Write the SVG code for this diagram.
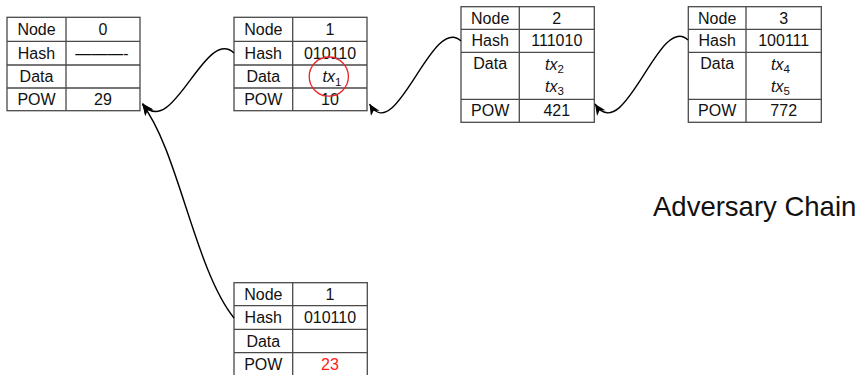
<svg xmlns="http://www.w3.org/2000/svg" width="858" height="375" viewBox="0 0 858 375">
  <style>
    .cell { fill: none; stroke: #4a4a4a; stroke-width: 1.3; }
    .lbl { font-family: "Liberation Sans", Arial, Helvetica, sans-serif; font-size: 16px; fill: #111; text-anchor: middle; }
    .it { font-style: italic; }
    .sub { font-size: 11.5px; font-style: normal; }
    .red { fill: #ff1a1a; }
    .link { fill: none; stroke: #000; stroke-width: 1.4; }
    .title { font-family: "Liberation Sans", Arial, Helvetica, sans-serif; font-size: 27.5px; fill: #111; }
  </style>
  <defs>
    <marker id="tip" markerUnits="userSpaceOnUse" markerWidth="13" markerHeight="11" refX="11" refY="5" orient="auto">
      <path d="M0,0 L11,5 L0,10 L3,5 z" fill="#000"/>
    </marker>
  </defs>

  <!-- block 0 -->
  <g id="node0">
    <rect class="cell" x="7" y="17.3" width="133" height="93.4"/>
    <path class="cell" d="M66,17.3 V110.7 M7,41.3 H140 M7,65 H140 M7,88 H140"/>
    <text class="lbl" x="36.5" y="34.8">Node</text>
    <text class="lbl" x="103" y="34.8">0</text>
    <text class="lbl" x="36.5" y="58.5">Hash</text>
    <text class="lbl" x="102" y="58.5">———-</text>
    <text class="lbl" x="36.5" y="82">Data</text>
    <text class="lbl" x="36.5" y="105">POW</text>
    <text class="lbl" x="103" y="105">29</text>
  </g>

  <!-- block 1 (honest chain) -->
  <g id="node1">
    <rect class="cell" x="234" y="17.3" width="133" height="93.4"/>
    <path class="cell" d="M292.7,17.3 V110.7 M234,41.3 H367 M234,65 H367 M234,88 H367"/>
    <text class="lbl" x="263.3" y="34.8">Node</text>
    <text class="lbl" x="330" y="34.8">1</text>
    <text class="lbl" x="263.3" y="58.5">Hash</text>
    <text class="lbl" x="330" y="58.5">010110</text>
    <text class="lbl" x="263.3" y="82">Data</text>
    <text class="lbl" x="332" y="82"><tspan class="it">tx</tspan><tspan class="sub" dy="3.5">1</tspan></text>
    <text class="lbl" x="263.3" y="105">POW</text>
    <text class="lbl" x="330" y="105">10</text>
    <circle cx="328.8" cy="76.6" r="19.6" fill="none" stroke="#e8262a" stroke-width="1.3"/>
  </g>

  <!-- block 2 -->
  <g id="node2">
    <rect class="cell" x="461" y="6.7" width="133.3" height="115.6"/>
    <path class="cell" d="M519.3,6.7 V122.3 M461,29.3 H594.3 M461,52.3 H594.3 M461,99.3 H594.3"/>
    <text class="lbl" x="490.2" y="23.5">Node</text>
    <text class="lbl" x="556.8" y="23.5">2</text>
    <text class="lbl" x="490.2" y="46.3">Hash</text>
    <text class="lbl" x="556.8" y="46.3">111010</text>
    <text class="lbl" x="490.2" y="68.8">Data</text>
    <text class="lbl" x="554.5" y="69.5"><tspan class="it">tx</tspan><tspan class="sub" dy="3.5">2</tspan></text>
    <text class="lbl" x="554.5" y="91.8"><tspan class="it">tx</tspan><tspan class="sub" dy="3.5">3</tspan></text>
    <text class="lbl" x="490.2" y="116.3">POW</text>
    <text class="lbl" x="556.8" y="116.3">421</text>
  </g>

  <!-- block 3 -->
  <g id="node3">
    <rect class="cell" x="688.3" y="6.7" width="133" height="115.6"/>
    <path class="cell" d="M746,6.7 V122.3 M688.3,29.3 H821.3 M688.3,52.3 H821.3 M688.3,99.3 H821.3"/>
    <text class="lbl" x="717.2" y="23.5">Node</text>
    <text class="lbl" x="783.7" y="23.5">3</text>
    <text class="lbl" x="717.2" y="46.3">Hash</text>
    <text class="lbl" x="783.7" y="46.3">100111</text>
    <text class="lbl" x="717.2" y="68.8">Data</text>
    <text class="lbl" x="780.5" y="69.5"><tspan class="it">tx</tspan><tspan class="sub" dy="3.5">4</tspan></text>
    <text class="lbl" x="780.5" y="91.8"><tspan class="it">tx</tspan><tspan class="sub" dy="3.5">5</tspan></text>
    <text class="lbl" x="717.2" y="116.3">POW</text>
    <text class="lbl" x="783.7" y="116.3">772</text>
  </g>

  <!-- competing block 1 -->
  <g id="node1b">
    <rect class="cell" x="234" y="282.7" width="133.3" height="93.3"/>
    <path class="cell" d="M292.7,282.7 V376 M234,305.7 H367.3 M234,329.3 H367.3 M234,352.7 H367.3"/>
    <text class="lbl" x="263.3" y="299.7">Node</text>
    <text class="lbl" x="330" y="299.7">1</text>
    <text class="lbl" x="263.3" y="323">Hash</text>
    <text class="lbl" x="330" y="323">010110</text>
    <text class="lbl" x="263.3" y="346.5">Data</text>
    <text class="lbl" x="263.3" y="369.8">POW</text>
    <text class="lbl red" x="330" y="369.8">23</text>
  </g>

  <!-- back links -->
  <g id="links">
    <path class="link" marker-end="url(#tip)" d="M234,53 C205,25 172,143 142.5,103.5"/>
    <path class="link" marker-end="url(#tip)" d="M461,41 C432,13 396,148 369.5,104"/>
    <path class="link" marker-end="url(#tip)" d="M688,40 C659,12 625,148 595,104"/>
    <path class="link" marker-end="url(#tip)" d="M234,318 C195,270 178,150 142.5,104.5"/>
  </g>

  <text id="caption" class="title" x="653" y="216">Adversary Chain</text>
</svg>
